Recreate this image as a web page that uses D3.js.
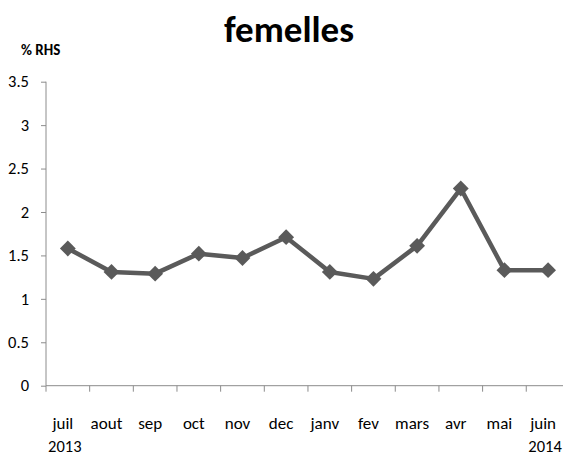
<!DOCTYPE html>
<html>
<head>
<meta charset="utf-8">
<script src="https://cdn.jsdelivr.net/npm/d3@7"></script>
<style>
  html, body { margin: 0; padding: 0; background: #fff; }
  svg { display: block; }
  text { font-family: Carlito, Lato, "Open Sans", sans-serif; fill: #000; }
</style>
</head>
<body>
<svg id="chart" width="563" height="457"></svg>
<script>
// Monthly values, July 2013 to June 2014
const months = ["juil", "aout", "sep", "oct", "nov", "dec", "janv", "fev", "mars", "avr", "mai", "juin"];
const years = ["2013", "", "", "", "", "", "", "", "", "", "", "2014"];
const values = [1.58, 1.31, 1.29, 1.52, 1.47, 1.71, 1.31, 1.23, 1.61, 2.27, 1.33, 1.33];
const yTicks = [0, 0.5, 1, 1.5, 2, 2.5, 3, 3.5];

(function () {
  const svg = d3.select("#chart");
  const W = 563;
  const plotLeft = 46, plotTop = 81.7, plotBottom = 385.7;
  const band = 43.66;
  const plotRight = plotLeft + band * months.length;

  const x = d3.scaleBand().domain(months).range([plotLeft, plotRight]).padding(0);
  const y = d3.scaleLinear().domain([0, 3.5]).range([plotBottom, plotTop]);

  // Title and axis caption
  svg.append("text")
    .attr("x", 289).attr("y", 42)
    .attr("text-anchor", "middle")
    .style("font-size", "37px").style("font-weight", "bold")
    .text("femelles");

  svg.append("text")
    .attr("x", 21).attr("y", 55)
    .style("font-size", "15px").style("font-weight", "bold")
    .text("% RHS");

  // Y axis
  const yAxis = svg.append("g")
    .attr("transform", `translate(${plotLeft},0)`)
    .call(d3.axisLeft(y).tickValues(yTicks).tickSize(5).tickPadding(12)
      .tickFormat(d => String(d)));
  yAxis.select(".domain").attr("stroke", "#8c8c8c").attr("d", `M0,${plotTop}V${plotBottom}`);
  yAxis.selectAll(".tick line").attr("stroke", "#8c8c8c");
  yAxis.selectAll(".tick text").style("font-size", "16.5px").attr("fill", "#000");

  // X axis (ticks on band boundaries)
  const xAxisG = svg.append("g").attr("transform", `translate(0,${plotBottom})`);
  xAxisG.append("line")
    .attr("x1", plotLeft).attr("x2", W)
    .attr("stroke", "#8c8c8c").attr("stroke-width", 1);
  xAxisG.selectAll("line.tk")
    .data(months)
    .join("line")
    .attr("class", "tk")
    .attr("x1", d => x(d)).attr("x2", d => x(d))
    .attr("y1", 0).attr("y2", 6)
    .attr("stroke", "#8c8c8c");

  const labels = svg.append("g");
  labels.selectAll("text.m")
    .data(months)
    .join("text")
    .attr("class", "m")
    .attr("x", d => x(d) + x.bandwidth() / 2 - 5)
    .attr("y", 429)
    .attr("text-anchor", "middle")
    .style("font-size", "17px")
    .text(d => d);
  labels.selectAll("text.yr")
    .data(months.map((m, i) => ({ m, yr: years[i] })).filter(d => d.yr))
    .join("text")
    .attr("class", "yr")
    .attr("x", d => x(d.m) + x.bandwidth() / 2 - 3)
    .attr("y", 452)
    .attr("text-anchor", "middle")
    .style("font-size", "16.5px")
    .text(d => d.yr);

  // Series line and diamond markers
  const cx = m => x(m) + x.bandwidth() / 2;
  const line = d3.line().x((d, i) => cx(months[i])).y(d => y(d));
  svg.append("path")
    .datum(values)
    .attr("d", line)
    .attr("fill", "none")
    .attr("stroke", "#5a5a5a")
    .attr("stroke-width", 4.5)
    .attr("stroke-linejoin", "round");

  const diamond = d3.symbol().type(d3.symbolDiamond2).size(160);
  svg.selectAll("path.mk")
    .data(values)
    .join("path")
    .attr("class", "mk")
    .attr("transform", (d, i) => `translate(${cx(months[i])},${y(d)})`)
    .attr("d", diamond)
    .attr("fill", "#5a5a5a");
})();
</script>
</body>
</html>
